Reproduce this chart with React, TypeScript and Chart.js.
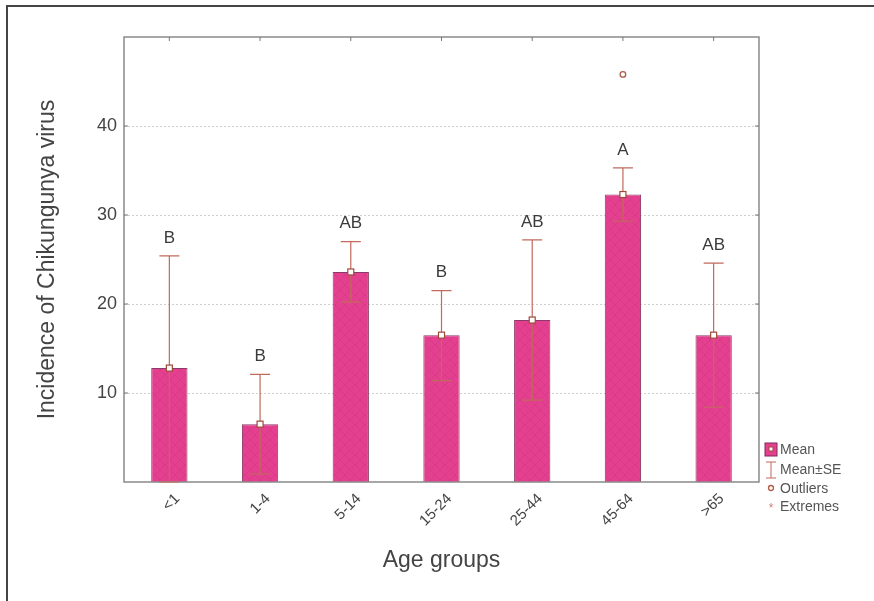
import React, { useEffect, useRef } from "react";
import { Chart, registerables } from "chart.js";

Chart.register(...registerables);

const categories = ["<1", "1-4", "5-14", "15-24", "25-44", "45-64", ">65"];
const means = [12.8, 6.5, 23.6, 16.5, 18.2, 32.3, 16.5];
const seUpper = [25.4, 12.1, 27.0, 21.5, 27.2, 35.3, 24.6];
const seLower = [0.0, 0.9, 20.2, 11.4, 9.2, 29.3, 8.4];
const groupLetters = ["B", "B", "AB", "B", "AB", "A", "AB"];
const outliers: [number, number][] = [[5, 45.8]];
const yTicks = [10, 20, 30, 40];
const legendLabels = ["Mean", "Mean±SE", "Outliers", "Extremes"];

const BAR = "#e4408f";
const ERR = "#c26a5c";
const FONT = "'Liberation Sans', Arial, sans-serif";

function makePattern(): CanvasPattern | string {
  const c = document.createElement("canvas");
  c.width = 10;
  c.height = 10;
  const g = c.getContext("2d");
  if (!g) return BAR;
  g.fillStyle = BAR;
  g.fillRect(0, 0, 10, 10);
  g.strokeStyle = "rgba(150,40,100,0.2)";
  g.lineWidth = 0.8;
  g.beginPath();
  g.moveTo(0, 0);
  g.lineTo(10, 10);
  g.moveTo(10, 0);
  g.lineTo(0, 10);
  g.stroke();
  const p = g.createPattern(c, "repeat");
  return p || BAR;
}

const overlayPlugin = {
  id: "overlay",
  beforeDatasetsDraw(chart: any) {
    const { ctx, chartArea: a, scales } = chart;
    const y = scales.y;
    ctx.save();
    ctx.strokeStyle = "#cfcfcf";
    ctx.lineWidth = 1;
    ctx.setLineDash([2, 2]);
    yTicks.forEach((v) => {
      const py = Math.round(y.getPixelForValue(v)) + 0.5;
      ctx.beginPath();
      ctx.moveTo(a.left, py);
      ctx.lineTo(a.right, py);
      ctx.stroke();
    });
    ctx.restore();
  },
  afterDatasetsDraw(chart: any) {
    const { ctx, chartArea: a, scales } = chart;
    const x = scales.x;
    const y = scales.y;
    ctx.save();
    // plot frame
    ctx.strokeStyle = "#8a8a8a";
    ctx.lineWidth = 1.5;
    ctx.strokeRect(a.left, a.top, a.right - a.left, a.bottom - a.top);
    // inward ticks
    ctx.lineWidth = 1;
    ctx.strokeStyle = "#777";
    yTicks.forEach((v) => {
      const py = y.getPixelForValue(v);
      ctx.beginPath();
      ctx.moveTo(a.left, py);
      ctx.lineTo(a.left + 4, py);
      ctx.moveTo(a.right, py);
      ctx.lineTo(a.right - 4, py);
      ctx.stroke();
    });
    categories.forEach((_, i) => {
      const px = x.getPixelForValue(i);
      ctx.beginPath();
      ctx.moveTo(px, a.top);
      ctx.lineTo(px, a.top + 4);
      ctx.stroke();
    });
    // error bars
    ctx.strokeStyle = ERR;
    ctx.lineWidth = 1.2;
    categories.forEach((_, i) => {
      const px = x.getPixelForValue(i);
      const pu = y.getPixelForValue(seUpper[i]);
      const pl = y.getPixelForValue(seLower[i]);
      ctx.beginPath();
      ctx.moveTo(px, pu);
      ctx.lineTo(px, pl);
      ctx.moveTo(px - 10, pu);
      ctx.lineTo(px + 10, pu);
      ctx.moveTo(px - 10, pl);
      ctx.lineTo(px + 10, pl);
      ctx.stroke();
    });
    // mean markers
    categories.forEach((_, i) => {
      const px = x.getPixelForValue(i);
      const pm = y.getPixelForValue(means[i]);
      ctx.fillStyle = "#ffffff";
      ctx.strokeStyle = "#a0483a";
      ctx.lineWidth = 1.2;
      ctx.fillRect(px - 3, pm - 3, 6, 6);
      ctx.strokeRect(px - 3, pm - 3, 6, 6);
    });
    // outliers
    outliers.forEach(([i, v]) => {
      const px = x.getPixelForValue(i);
      const py = y.getPixelForValue(v);
      ctx.beginPath();
      ctx.arc(px, py, 2.8, 0, Math.PI * 2);
      ctx.fillStyle = "#fff";
      ctx.fill();
      ctx.strokeStyle = "#b05a48";
      ctx.lineWidth = 1.3;
      ctx.stroke();
    });
    // group letters
    ctx.fillStyle = "#3a3a3a";
    ctx.font = `17px ${FONT}`;
    ctx.textAlign = "center";
    ctx.textBaseline = "middle";
    categories.forEach((_, i) => {
      const px = x.getPixelForValue(i);
      const pu = y.getPixelForValue(seUpper[i]);
      ctx.fillText(groupLetters[i], px, pu - 18);
    });
    // legend
    const lx = 771;
    const ly = [450, 470, 489, 507];
    ctx.font = `14px ${FONT}`;
    ctx.textAlign = "left";
    ctx.fillStyle = "#555";
    legendLabels.forEach((t, k) => ctx.fillText(t, lx + 9, ly[k]));
    ctx.fillStyle = BAR;
    ctx.fillRect(lx - 6, ly[0] - 7, 12, 13);
    ctx.strokeStyle = "#7a2a5a";
    ctx.lineWidth = 1;
    ctx.strokeRect(lx - 6, ly[0] - 7, 12, 13);
    ctx.fillStyle = "#fff";
    ctx.fillRect(lx - 2, ly[0] - 3, 4, 4);
    ctx.strokeStyle = "#a0483a";
    ctx.strokeRect(lx - 2, ly[0] - 3, 4, 4);
    ctx.strokeStyle = ERR;
    ctx.beginPath();
    ctx.moveTo(lx - 5, ly[1] - 8);
    ctx.lineTo(lx + 5, ly[1] - 8);
    ctx.moveTo(lx, ly[1] - 8);
    ctx.lineTo(lx, ly[1] + 8);
    ctx.moveTo(lx - 5, ly[1] + 8);
    ctx.lineTo(lx + 5, ly[1] + 8);
    ctx.stroke();
    ctx.beginPath();
    ctx.arc(lx, ly[2] - 1, 2.5, 0, Math.PI * 2);
    ctx.strokeStyle = "#b05a48";
    ctx.lineWidth = 1.3;
    ctx.stroke();
    ctx.fillStyle = "#d08070";
    ctx.font = `12px ${FONT}`;
    ctx.textAlign = "center";
    ctx.fillText("*", lx, ly[3] + 2);
    ctx.restore();
    // page frame (top and left)
    ctx.save();
    ctx.strokeStyle = "#444";
    ctx.lineWidth = 2;
    ctx.beginPath();
    ctx.moveTo(7, 601);
    ctx.lineTo(7, 6);
    ctx.lineTo(874, 6);
    ctx.stroke();
    ctx.restore();
  },
};

export default function App() {
  const ref = useRef<HTMLCanvasElement | null>(null);
  useEffect(() => {
    if (!ref.current) return;
    const pattern = makePattern();
    const chart = new Chart(ref.current, {
      type: "bar",
      data: {
        labels: categories,
        datasets: [
          {
            data: means,
            backgroundColor: pattern as any,
            borderColor: "#8c3a66",
            borderWidth: 1,
            barPercentage: 0.4,
            categoryPercentage: 1,
          },
        ],
      },
      options: {
        animation: false,
        responsive: false,
        maintainAspectRatio: false,
        layout: { padding: { left: 0, top: 37, right: 115, bottom: 0 } },
        plugins: { legend: { display: false }, tooltip: { enabled: false } },
        scales: {
          x: {
            grid: { display: false, drawTicks: false },
            border: { display: false },
            ticks: {
              minRotation: 45,
              maxRotation: 45,
              padding: 8,
              labelOffset: 8,
              color: "#444",
              font: { family: FONT, size: 15 },
            },
            title: {
              display: true,
              text: "Age groups",
              color: "#444",
              font: { family: FONT, size: 23 },
              padding: { top: 0, bottom: 27 },
            },
            afterFit: (s: any) => {
              s.height = 119;
            },
          },
          y: {
            min: 0,
            max: 50,
            grid: { display: false, drawTicks: false },
            border: { display: false },
            afterBuildTicks: (s: any) => {
              s.ticks = yTicks.map((v) => ({ value: v }));
            },
            ticks: {
              padding: 7,
              color: "#444",
              font: { family: FONT, size: 18 },
            },
            title: {
              display: true,
              text: "Incidence of Chikungunya virus",
              color: "#444",
              font: { family: FONT, size: 23 },
              padding: { top: 34, bottom: 0 },
            },
            afterFit: (s: any) => {
              s.width = 124;
            },
          },
        },
      },
      plugins: [overlayPlugin],
    });
    return () => chart.destroy();
  }, []);
  return (
    <div style={{ position: "absolute", left: 0, top: 0, width: 874, height: 601, background: "#fff" }}>
      <canvas ref={ref} width={874} height={601} style={{ display: "block" }} />
    </div>
  );
}
